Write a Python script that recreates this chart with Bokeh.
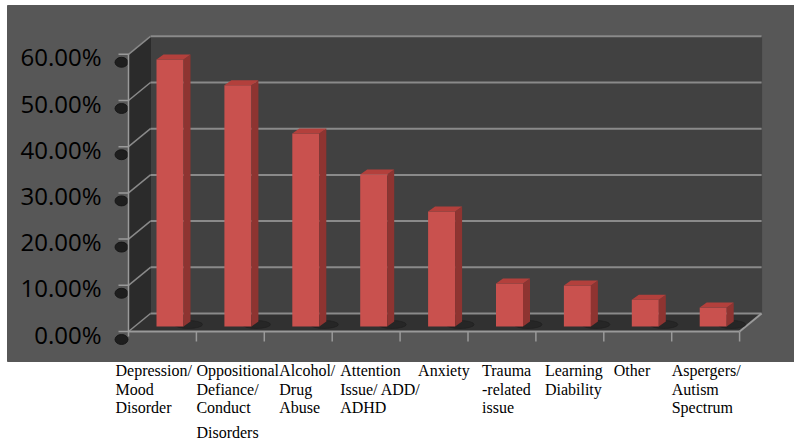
from bokeh.plotting import figure
from bokeh.models import Range1d, ColumnDataSource
from bokeh.core.properties import value
from bokeh.embed import file_html
from bokeh.resources import INLINE

# ---------------- data ----------------
categories = [
    "Depression/\nMood\nDisorder",
    "Oppositional\nDefiance/\n Conduct\nDisorders",
    "Alcohol/\nDrug\nAbuse",
    "Attention\nIssue/ ADD/\nADHD",
    "Anxiety",
    "Trauma\n-related\nissue",
    "Learning\nDiability",
    "Other",
    "Aspergers/\nAutism\nSpectrum",
]
percentages = [57.8, 52.2, 41.8, 32.9, 24.9, 9.3, 8.9, 5.8, 4.1]
y_ticks = [0, 10, 20, 30, 40, 50, 60]
y_tick_labels = ["0.00%", "10.00%", "20.00%", "30.00%", "40.00%", "50.00%", "60.00%"]

# ---------------- layout (pixels) ----------------
W, H = 794, 441
X0_PX, Y0_PX = 128, 331        # front-left-bottom corner of the 3D box
CAT_PX = 67.9                  # px per category
PCT_PX = 4.62                  # px per percent
DEPTH_X_PX, DEPTH_Y_PX = 22, 18
LABEL_DX_PX = [-13, 0, 15, 8, 18, 14, 9, 10, 0]
LABEL_ROW_PX = [370, 388.5, 407, 432]

def xd(px):
    return (px - X0_PX) / CAT_PX

def yd(py):
    return (Y0_PX - py) / PCT_PX

def dxd(d):
    return d / CAT_PX

def dyd(d):
    return d / PCT_PX

n = len(categories)
ymax = y_ticks[-1]
DX, DY = dxd(DEPTH_X_PX), dyd(DEPTH_Y_PX)

p = figure(width=W, height=H, x_range=Range1d(xd(0), xd(W)), y_range=Range1d(yd(H), yd(0)),
           min_border=0, toolbar_location=None, output_backend="svg",
           x_axis_location=None, y_axis_location=None)
p.grid.visible = False
p.outline_line_color = None
p.background_fill_color = "white"
p.border_fill_color = "white"

# chart area background
p.quad(left=xd(7), right=xd(W), top=yd(5), bottom=yd(361), color="#575757")
# back wall
p.quad(left=DX, right=n + DX, bottom=DY, top=ymax + DY, color="#414141")
# side wall
p.patch([0, 0, DX, DX], [0, ymax, ymax + DY, DY], color="#2b2b2b")
# floor
p.patch([0, n, n + DX, DX], [0, 0, DY, DY], color="#313131")

GRID = "#8a8a8a"
# gridlines back + side
p.segment(x0=[DX] * len(y_ticks), x1=[n + DX] * len(y_ticks),
          y0=[t + DY for t in y_ticks], y1=[t + DY for t in y_ticks], line_color=GRID, line_width=2)
p.segment(x0=[0] * len(y_ticks), x1=[DX] * len(y_ticks),
          y0=y_ticks, y1=[t + DY for t in y_ticks], line_color=GRID, line_width=1.5)
# floor front edge and right edge
p.segment(x0=[0, n], x1=[n, n + DX], y0=[0, 0], y1=[0, DY], line_color="#9a9a9a", line_width=2)

# tick blobs (shadows)
p.ellipse(x=[xd(121)] * len(y_ticks), y=[t - dyd(8) for t in y_ticks], width=13, height=10,
          width_units="screen", height_units="screen", color="#141414", alpha=0.85)
# y axis line and ticks
p.segment(x0=[0], x1=[0], y0=[yd(336)], y1=[ymax], line_color="#9a9a9a", line_width=1.5)
p.segment(x0=[xd(118)] * len(y_ticks), x1=[0] * len(y_ticks), y0=y_ticks, y1=y_ticks,
          line_color="#9a9a9a", line_width=1.5)
# x ticks
p.segment(x0=list(range(1, n + 1)), x1=list(range(1, n + 1)), y0=[0] * n, y1=[yd(341)] * n,
          line_color="#9a9a9a", line_width=1.5)

# ---------------- bars ----------------
BAR_OFF = dxd(28)
BAR_W = dxd(27)
BAR_BASE = dyd(5)
SIDE_DX, SIDE_DY = dxd(7), dyd(5)

lefts = [i + BAR_OFF for i in range(n)]
rights = [l + BAR_W for l in lefts]
tops = [v + BAR_BASE for v in percentages]

# floor shadows
p.ellipse(x=[r + dxd(5) for r in rights], y=[BAR_BASE + dyd(2)] * n, width=28, height=8,
          width_units="screen", height_units="screen", color="#1a1a1a", alpha=0.45)

src = ColumnDataSource(dict(left=lefts, right=rights, top=tops, bottom=[BAR_BASE] * n))
p.quad(left="left", right="right", top="top", bottom="bottom", source=src,
       fill_color="#C9514E", line_color=None)
side_xs = [[r, r + SIDE_DX, r + SIDE_DX, r] for r in rights]
side_ys = [[BAR_BASE, BAR_BASE + SIDE_DY, t + SIDE_DY, t] for t in tops]
p.patches(side_xs, side_ys, fill_color="#8E3431", line_color=None)
top_xs = [[l, r, r + SIDE_DX, l + SIDE_DX] for l, r in zip(lefts, rights)]
top_ys = [[t, t, t + SIDE_DY, t + SIDE_DY] for t in tops]
p.patches(top_xs, top_ys, fill_color="#B3403C", line_color=None)

# ---------------- texts ----------------
p.text(x=[xd(101)] * len(y_ticks), y=[t - dyd(2.5) for t in y_ticks], text=y_tick_labels,
       text_align="right", text_baseline="middle", text_font=value("Open Sans"),
       text_font_size="24px", text_color="#000000")

lx, ly, lt = [], [], []
for i, cat in enumerate(categories):
    for k, line in enumerate(cat.split("\n")):
        lx.append(i + dxd(LABEL_DX_PX[i]))
        ly.append(yd(LABEL_ROW_PX[k]))
        lt.append(line)
p.text(x=lx, y=ly, text=lt, text_align="left", text_baseline="middle",
       text_font=value("Liberation Serif"), text_font_size="16px", text_color="#000000")

open("out.html", "w").write(file_html(p, INLINE))
